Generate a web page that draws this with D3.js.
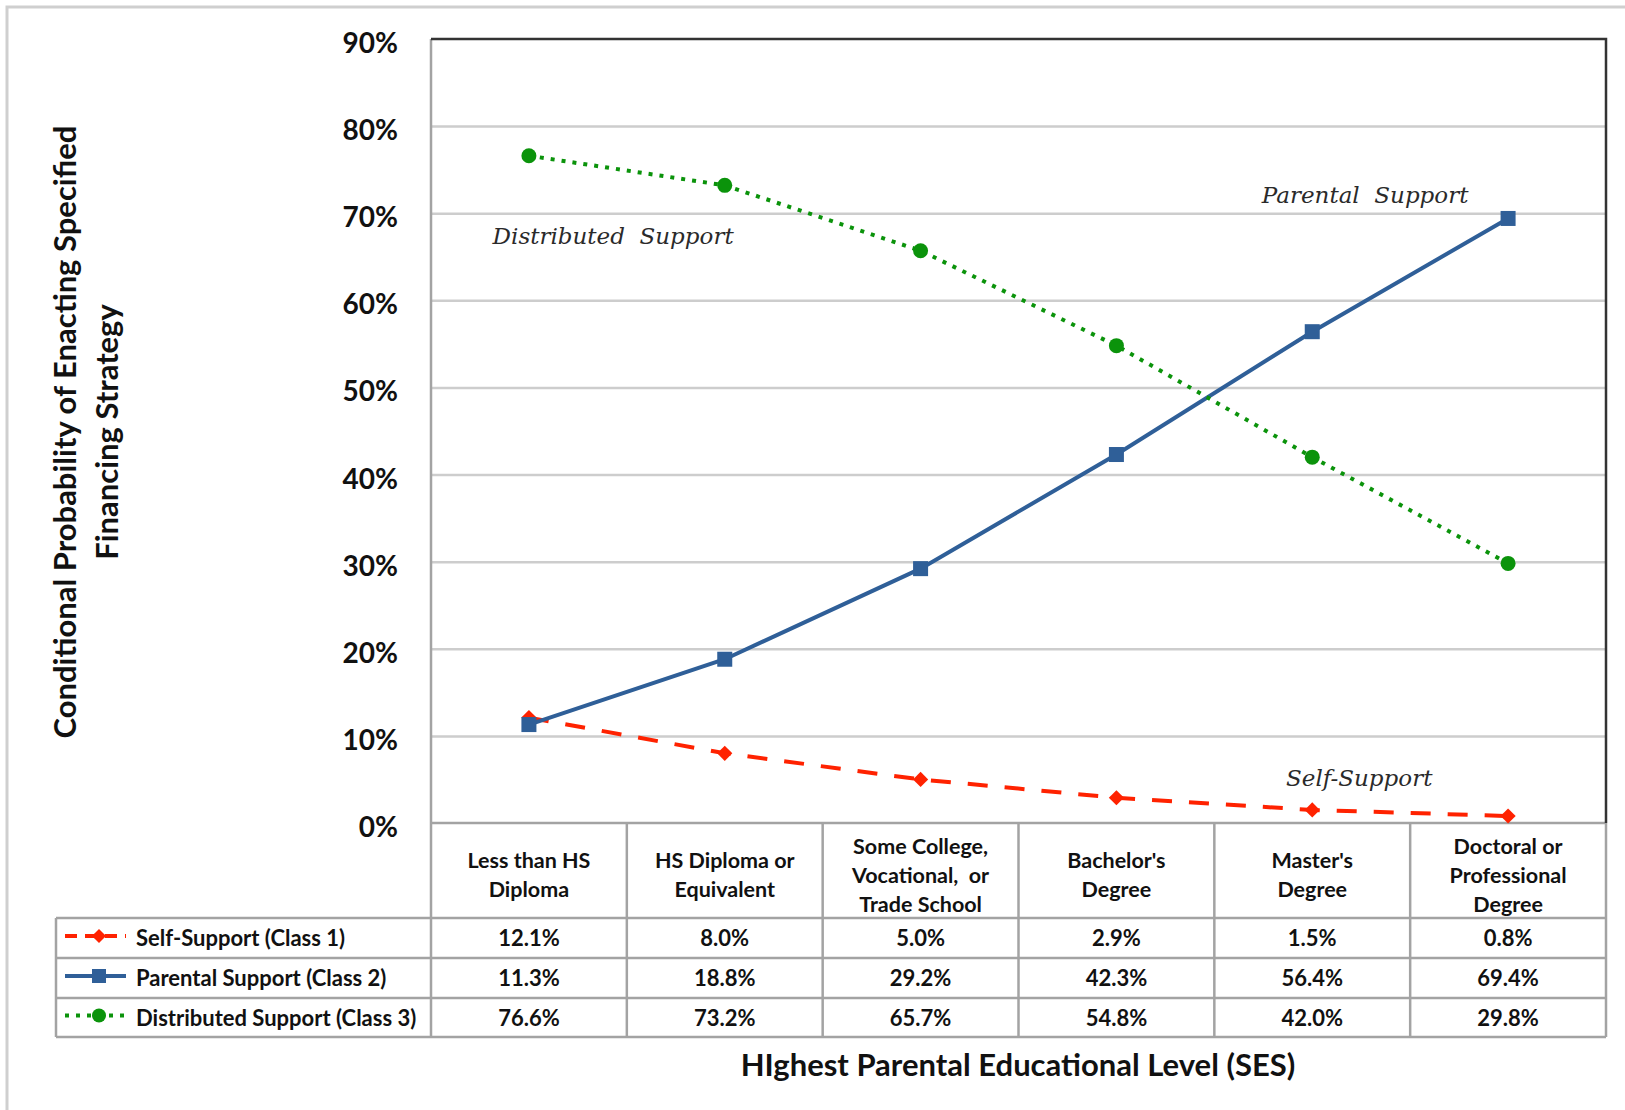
<!DOCTYPE html>
<html>
<head>
<meta charset="utf-8">
<script src="https://cdn.jsdelivr.net/npm/d3@7"></script>
<style>
  body { margin: 0; background: #fff; }
  svg { display: block; }
  text { font-family: Lato, "Open Sans", sans-serif; fill: #111; }
</style>
</head>
<body>
<script>
// categories (header rows of the table)
const categories = [
  ["Less than HS", "Diploma"],
  ["HS Diploma or", "Equivalent"],
  ["Some College,", "Vocational,  or", "Trade School"],
  ["Bachelor's", "Degree"],
  ["Master's", "Degree"],
  ["Doctoral or", "Professional", "Degree"]
];
// series values (proportion)
const selfSupport = [0.121, 0.080, 0.050, 0.029, 0.015, 0.008];
const parentalSupport = [0.113, 0.188, 0.292, 0.423, 0.564, 0.694];
const distributedSupport = [0.766, 0.732, 0.657, 0.548, 0.420, 0.298];
const yTicks = [0, 0.1, 0.2, 0.3, 0.4, 0.5, 0.6, 0.7, 0.8, 0.9];

const series = [
  { name: "Self-Support (Class 1)", label: "Self-Support", values: selfSupport, color: "#ff2200", dash: "20,17", marker: "diamond", lx: 4.24, ly: 0.043 },
  { name: "Parental Support (Class 2)", label: "Parental  Support", values: parentalSupport, color: "#2f5f98", dash: null, marker: "square", lx: 4.27, ly: 0.712 },
  { name: "Distributed Support (Class 3)", label: "Distributed  Support", values: distributedSupport, color: "#0b930b", dash: "4,7", marker: "circle", lx: 0.43, ly: 0.665 }
];

const W = 1625, H = 1110;
const pLeft = 431, pRight = 1606, pTop = 39, pBottom = 823;
const tableLeft = 56;
const rowY = [918, 958, 998, 1037];

const svg = d3.select("body").append("svg").attr("width", W).attr("height", H);

// outer frame
svg.append("path").attr("d", `M7,${H} V7 H${W}`).attr("fill", "none").attr("stroke", "#cfcfcf").attr("stroke-width", 3);

const x = d3.scaleBand().domain(d3.range(categories.length)).range([pLeft, pRight]).padding(0);
const y = d3.scaleLinear().domain([0, 0.9]).range([pBottom, pTop]);
const cx = i => x(i) + x.bandwidth() / 2;

// gridlines
svg.append("g")
  .attr("transform", `translate(${pLeft},0)`)
  .call(d3.axisLeft(y).tickValues(yTicks.slice(1, -1)).tickSize(-(pRight - pLeft)).tickFormat(""))
  .call(g => g.select(".domain").remove())
  .call(g => g.selectAll("line").attr("stroke", "#cdcdcd").attr("stroke-width", 2.5));

// y tick labels
svg.append("g")
  .attr("transform", `translate(398,0)`)
  .call(d3.axisLeft(y).tickValues(yTicks).tickSize(0).tickPadding(0).tickFormat(d3.format(".0%")))
  .call(g => g.select(".domain").remove())
  .call(g => g.selectAll("text").attr("font-size", 28).attr("font-weight", "bold").attr("text-anchor", "end").attr("dy", "0.48em").style("font-family", "Lato, sans-serif"));

// plot frame: left/bottom gray, top/right dark
svg.append("line").attr("x1", pLeft).attr("x2", pLeft).attr("y1", pTop).attr("y2", rowY[3]).attr("stroke", "#a3a3a3").attr("stroke-width", 2.5);
svg.append("line").attr("x1", pLeft).attr("x2", pRight).attr("y1", pBottom).attr("y2", pBottom).attr("stroke", "#a3a3a3").attr("stroke-width", 2.5);
svg.append("path").attr("d", `M${pLeft},${pTop} H${pRight} V${pBottom}`).attr("fill", "none").attr("stroke", "#333").attr("stroke-width", 2.5);

// table lines
const tbl = svg.append("g").attr("stroke", "#a3a3a3").attr("stroke-width", 2.5);
d3.range(1, categories.length + 1).forEach(i => {
  const xx = i < categories.length ? x(i) : pRight;
  tbl.append("line").attr("x1", xx).attr("x2", xx).attr("y1", pBottom).attr("y2", rowY[3]);
});
rowY.forEach(yy => tbl.append("line").attr("x1", tableLeft).attr("x2", pRight).attr("y1", yy).attr("y2", yy));
tbl.append("line").attr("x1", tableLeft).attr("x2", tableLeft).attr("y1", rowY[0]).attr("y2", rowY[3]);

// category header text
categories.forEach((lines, i) => {
  const t = svg.append("text").attr("x", cx(i)).attr("text-anchor", "middle").attr("font-size", 21.5).attr("font-weight", "bold").style("white-space", "pre");
  const y0 = lines.length === 3 ? 854 : 868;
  lines.forEach((l, k) => t.append("tspan").attr("x", cx(i)).attr("y", y0 + k * 29).text(l));
});

// markers
function drawMarker(g, type, px, py, color, s) {
  if (type === "square") g.append("rect").attr("x", px - s / 2).attr("y", py - s / 2).attr("width", s).attr("height", s).attr("fill", color);
  else if (type === "circle") g.append("circle").attr("cx", px).attr("cy", py).attr("r", s / 2).attr("fill", color);
  else g.append("path").attr("d", d3.symbol(d3.symbolDiamond2, s * s * 0.75)()).attr("transform", `translate(${px},${py})`).attr("fill", color);
}

const line = d3.line().x((d, i) => cx(i)).y(d => y(d));

series.forEach(s => {
  const g = svg.append("g");
  g.append("path").datum(s.values).attr("d", line).attr("fill", "none")
    .attr("stroke", s.color).attr("stroke-width", 4).attr("stroke-dasharray", s.dash);
  s.values.forEach((v, i) => drawMarker(g, s.marker, cx(i), y(v), s.color, s.marker === "diamond" ? 14 : 15));
  // annotation
  svg.append("text").attr("x", cx(0) + s.lx * x.bandwidth()).attr("y", y(s.ly))
    .attr("text-anchor", "middle").attr("font-size", 23).attr("font-style", "italic")
    .style("white-space", "pre")
    .style("font-family", "'DejaVu Serif', serif").style("fill", "#2a2a2a").text(s.label);
});

// table rows: legend + values
series.forEach((s, r) => {
  const yc = (rowY[r] + rowY[r + 1]) / 2;
  const g = svg.append("g");
  g.append("line").attr("x1", 65).attr("x2", 126).attr("y1", yc - 2).attr("y2", yc - 2)
    .attr("stroke", s.color).attr("stroke-width", 4).attr("stroke-dasharray", s.dash ? (s.marker === "diamond" ? "12,8" : "4,7") : null);
  drawMarker(g, s.marker, 99, yc - 2, s.color, s.marker === "diamond" ? 13 : 14);
  g.append("text").attr("x", 136).attr("y", yc + 8).attr("font-size", 22).attr("font-weight", "bold").text(s.name);
  s.values.forEach((v, i) => {
    g.append("text").attr("x", cx(i)).attr("y", yc + 8).attr("text-anchor", "middle")
      .attr("font-size", 22).attr("font-weight", "bold").text(d3.format(".1%")(v));
  });
});

// axis titles
svg.append("text").attr("x", 1018).attr("y", 1076).attr("text-anchor", "middle")
  .attr("font-size", 31).attr("font-weight", "bold").text("HIghest Parental Educational Level (SES)");

const yt = svg.append("text").attr("transform", "translate(76,432) rotate(-90)").attr("text-anchor", "middle")
  .attr("font-size", 31).attr("font-weight", "bold");
yt.append("tspan").attr("x", 0).attr("y", 0).text("Conditional Probability of Enacting Specified");
yt.append("tspan").attr("x", 0).attr("y", 42).text("Financing Strategy");
</script>
</body>
</html>
